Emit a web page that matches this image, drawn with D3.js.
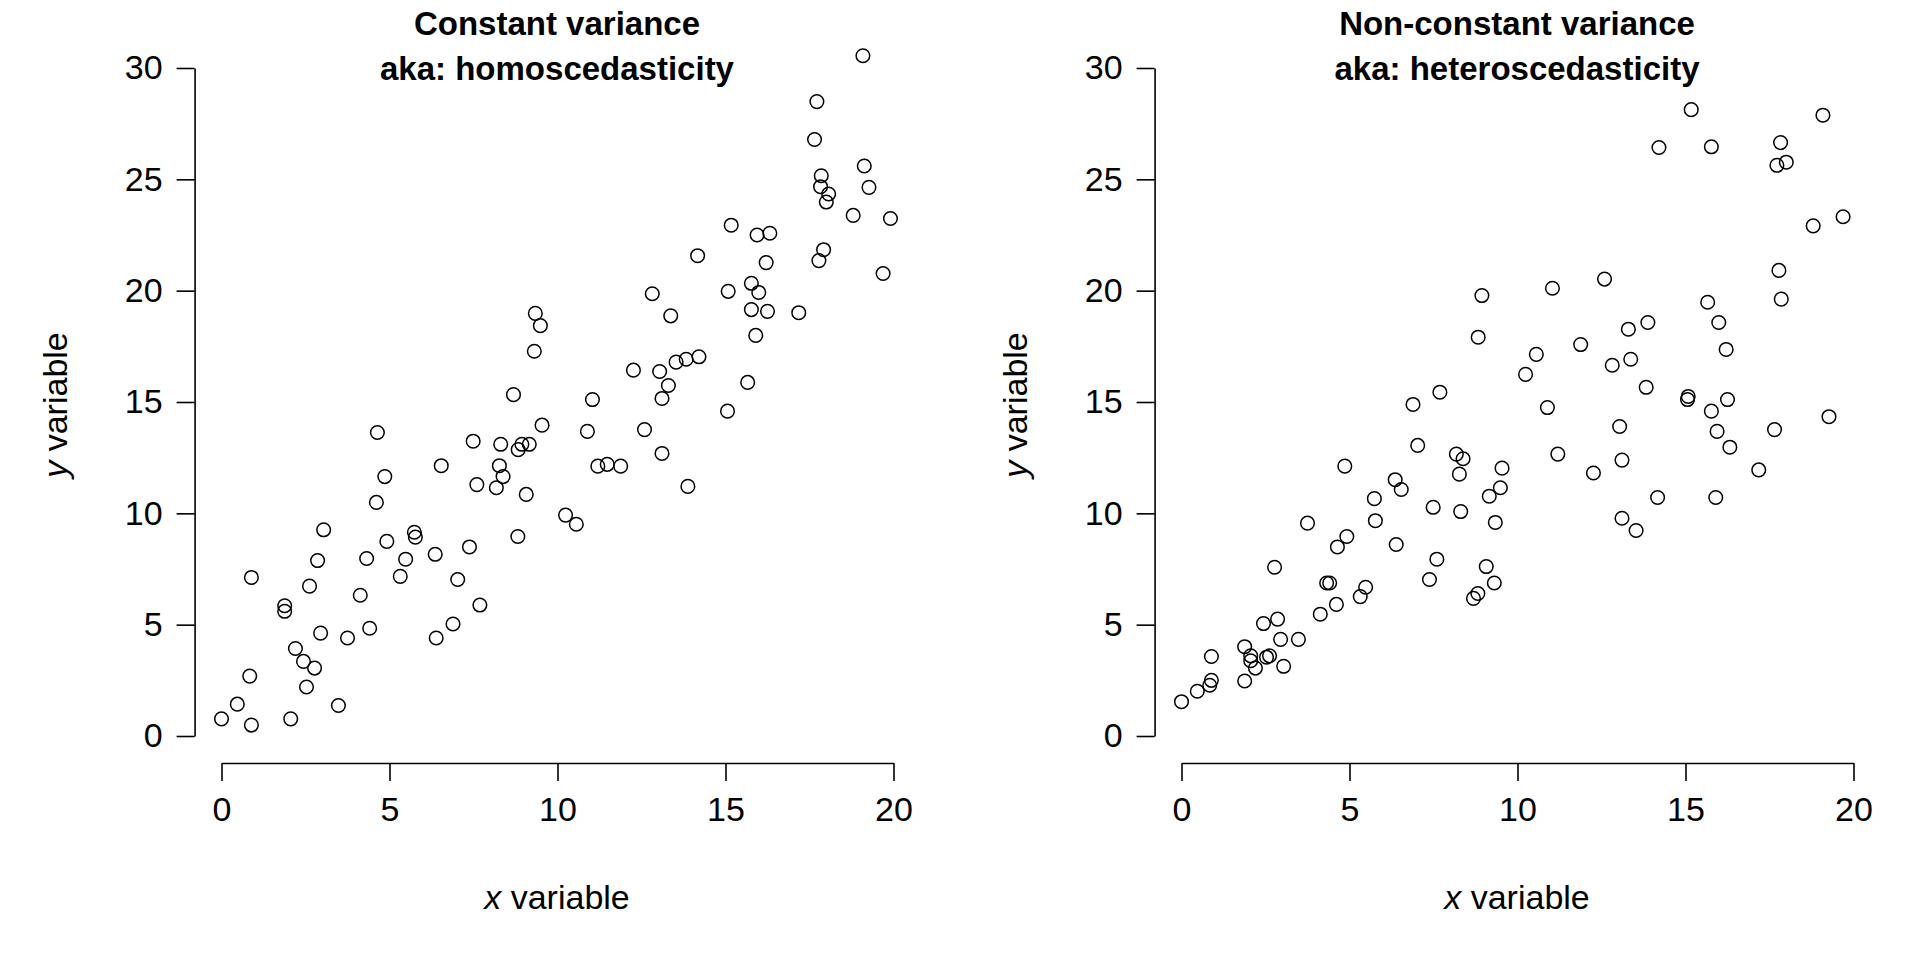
<!DOCTYPE html>
<html><head><meta charset="utf-8">
<script src="https://cdn.jsdelivr.net/npm/d3@7"></script>
<style>body{margin:0;background:#fff}svg{display:block}text{font-family:"Liberation Sans",Arial,sans-serif;fill:#000}</style>
</head><body><svg id="c" width="1920" height="960"></svg>
<script>
const xLeft=[0,0.47,0.84,0.89,0.89,1.88,1.88,2.06,2.20,2.44,2.53,2.62,2.77,2.86,2.95,3.04,3.48,3.75,4.13,4.32,4.41,4.61,4.64,4.86,4.92,5.32,5.48,5.74,5.77,6.36,6.39,6.54,6.89,7.03,7.38,7.49,7.60,7.69,8.18,8.27,8.31,8.38,8.69,8.82,8.83,8.94,9.07,9.16,9.31,9.34,9.49,9.54,10.24,10.56,10.89,11.04,11.20,11.48,11.88,12.26,12.59,12.82,13.04,13.11,13.11,13.30,13.37,13.53,13.83,13.88,14.17,14.21,15.06,15.08,15.17,15.66,15.77,15.77,15.90,15.94,15.99,16.21,16.25,16.32,17.18,17.65,17.72,17.78,17.83,17.85,17.92,18.00,18.07,18.80,19.09,19.13,19.27,19.69,19.91];
const yLeft=[0.77,1.43,2.69,0.49,7.12,5.85,5.60,0.77,3.93,3.35,2.20,6.73,3.05,7.88,4.62,9.26,1.37,4.40,6.32,7.97,4.84,10.49,13.63,11.65,8.74,7.17,7.94,9.15,8.93,8.16,4.40,12.14,5.03,7.03,8.49,13.24,11.29,5.88,11.15,12.14,13.10,11.65,15.33,8.96,12.86,13.10,10.85,13.10,17.28,18.98,18.43,13.96,9.92,9.51,13.68,15.11,12.12,12.20,12.12,16.43,13.76,19.86,16.37,15.16,12.69,15.74,18.87,16.79,16.92,11.21,21.57,17.03,14.59,19.97,22.94,15.88,20.33,19.15,17.99,22.50,19.92,21.26,19.07,22.58,19.01,26.79,28.49,21.35,24.67,25.16,21.84,23.98,24.34,23.38,30.55,25.60,24.64,20.77,23.24];
const xRight=[0,0.47,0.84,0.89,0.89,1.88,1.88,2.06,2.06,2.20,2.44,2.53,2.62,2.77,2.86,2.95,3.04,3.48,3.75,4.13,4.32,4.41,4.61,4.64,4.86,4.92,5.32,5.48,5.74,5.77,6.36,6.39,6.54,6.89,7.03,7.38,7.49,7.60,7.69,8.18,8.27,8.31,8.38,8.69,8.82,8.83,8.94,9.07,9.16,9.31,9.34,9.49,9.54,10.24,10.56,10.89,11.04,11.20,11.88,12.26,12.59,12.82,13.04,13.11,13.11,13.30,13.37,13.53,13.83,13.88,14.17,14.21,15.06,15.08,15.17,15.66,15.77,15.77,15.90,15.94,15.99,16.21,16.25,16.32,17.18,17.65,17.72,17.78,17.83,17.85,18.00,18.80,19.09,19.27,19.69];
const yRight=[1.54,2.01,2.28,2.50,3.57,4.01,2.47,3.60,3.38,3.05,5.05,3.54,3.60,7.58,5.25,4.34,3.13,4.34,9.56,5.47,6.87,6.87,5.91,8.49,12.12,8.96,6.26,6.68,10.66,9.67,11.51,8.60,11.07,14.89,13.05,7.03,10.27,7.94,15.44,12.66,11.76,10.08,12.45,6.18,6.40,17.91,19.78,7.61,10.77,6.87,9.59,11.15,12.03,16.24,17.14,14.75,20.11,12.66,17.58,11.81,20.52,16.65,13.90,12.39,9.78,18.27,16.92,9.23,15.66,18.57,10.71,26.43,15.11,15.25,28.13,19.48,14.59,26.46,10.71,13.68,18.57,17.36,15.11,12.97,11.95,13.76,25.63,20.91,26.65,19.62,25.77,22.91,27.88,14.34,23.32];
const xTicks=[0,5,10,15,20];
const yTicks=[0,5,10,15,20,25,30];
const titles=[["Constant variance","aka: homoscedasticity"],["Non-constant variance","aka: heteroscedasticity"]];

const svg=d3.select("#c");
const panels=[{xs:xLeft,ys:yLeft,off:0,t:titles[0]},{xs:xRight,ys:yRight,off:960,t:titles[1]}];
panels.forEach(p=>{
  const g=svg.append("g").attr("transform",`translate(${p.off},0)`);
  const x=d3.scaleLinear().domain([0,20]).range([221.5,893.5]);
  const y=d3.scaleLinear().domain([0,30]).range([736,68]);
  const xa=g.append("g").attr("transform","translate(0,763)")
    .call(d3.axisBottom(x).tickValues(xTicks).tickSize(18).tickPadding(16).tickSizeOuter(0));
  const ya=g.append("g").attr("transform","translate(194.6,0)")
    .call(d3.axisLeft(y).tickValues(yTicks).tickSize(18).tickPadding(14).tickSizeOuter(0));
  [xa,ya].forEach(a=>{
    a.select(".domain").attr("stroke","#000").attr("stroke-width",1.6);
    a.selectAll(".tick line").attr("stroke","#000").attr("stroke-width",1.6);
    a.selectAll(".tick text").style("font-size","34px").attr("fill","#000");
  });
  g.selectAll("circle").data(p.xs.map((v,i)=>[v,p.ys[i]])).join("circle")
    .attr("cx",d=>x(d[0])).attr("cy",d=>y(d[1])).attr("r",6.8)
    .attr("fill","none").attr("stroke","#000").attr("stroke-width",1.5);
  g.append("text").attr("x",557).attr("y",35).attr("text-anchor","middle")
    .style("font-size","33px").style("font-weight","bold").text(p.t[0]);
  g.append("text").attr("x",557).attr("y",80).attr("text-anchor","middle")
    .style("font-size","33px").style("font-weight","bold").text(p.t[1]);
  const xl=g.append("text").attr("x",557).attr("y",909).attr("text-anchor","middle").style("font-size","34px");
  xl.append("tspan").style("font-style","italic").text("x");
  xl.append("tspan").text(" variable");
  const yl=g.append("text").attr("transform","translate(67,405) rotate(-90)").attr("text-anchor","middle").style("font-size","34px");
  yl.append("tspan").style("font-style","italic").text("y");
  yl.append("tspan").text(" variable");
});
</script></body></html>
